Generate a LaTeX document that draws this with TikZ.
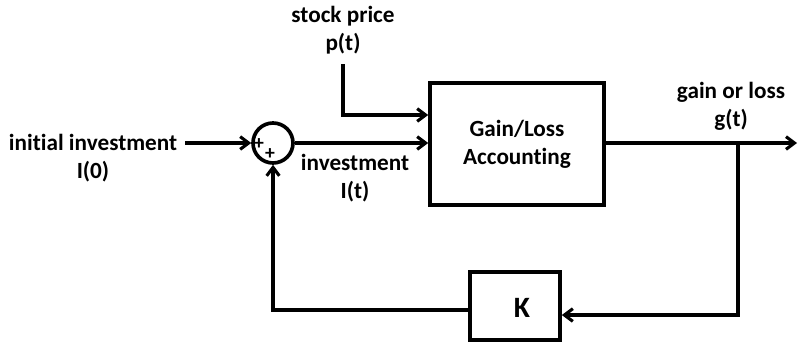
\documentclass[tikz,border=0pt]{standalone}
\usepackage{fontspec}
\setmainfont{Carlito}[Ligatures=NoCommon]
\usepackage{tikz}
\usetikzlibrary{arrows.meta, positioning, calc}

\begin{document}
\begin{tikzpicture}[x=0.025cm, y=-0.025cm, line width=2.6pt,
  font=\fontsize{16.5}{20}\selectfont\bfseries,
  >={Straight Barb[length=6pt, width=9pt, line width=2.2pt]},
  blk/.style={draw, line width=2.6pt, inner sep=0pt},
  lbl/.style={align=center, inner sep=0pt},
  sgn/.style={font=\fontsize{14}{14}\selectfont\bfseries, inner sep=0pt}]
\useasboundingbox (0,0) rectangle (799,343);
% blocks
\node[draw, circle, minimum size=40*0.025cm, inner sep=0pt] (sum) at (273,143) {};
\node[blk, minimum width=174*0.025cm, minimum height=122*0.025cm, align=center] (acc) at (517,144)
{Gain/Loss\\Accounting};
\node[blk, minimum width=90*0.025cm, minimum height=68*0.025cm] (k) at (515,306) {};
\node[font=\fontsize{21}{21}\selectfont\bfseries] (klbl) at (522,308) {K};
\node[sgn] at (259,144) {+};
\node[sgn] at (270,154) {+};
% labels
\node[lbl] (inlbl) at (93,158) {initial investment\\I(0)};
\node[lbl] (plbl) at (343,30) {stock price\\p(t)};
\node[lbl] (ilbl) at (355,178) {investment\\I(t)};
\node[lbl] (glbl) at (731,106) {gain or loss\\g(t)};
\coordinate (inL) at (185,143);
\coordinate (pTop) at (343,64);
\coordinate (gOut) at (797,143);
\coordinate (tap) at (738,143);
% connectors
\draw[->] (inL) -- (sum.west);
\draw[->] (sum.east) -- (acc.west |- sum.east);
\draw[->] (pTop) |- ($(acc.west)+(0,-29)$);
\draw[->] (acc.east |- sum) -- (gOut);
\draw[->] (tap) |- (k.east |- 0,315);
\draw[->] (k.west |- 0,310) -| (sum.south);
\end{tikzpicture}
\end{document}
